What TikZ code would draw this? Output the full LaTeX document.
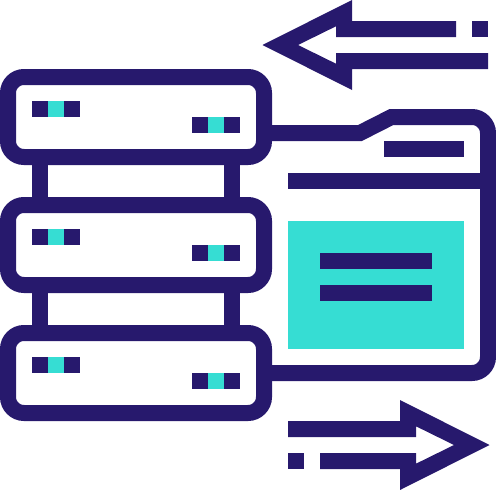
\documentclass[tikz,border=0pt]{standalone}
\usepackage{xcolor}
\definecolor{ink}{HTML}{27196D}
\definecolor{aqua}{HTML}{36DDD3}
\tikzset{
    serverbox/.style={draw=ink, line width=16pt, rounded corners=16pt, minimum width=256pt, minimum height=80pt, inner sep=0pt},
    ledbar/.style={fill=ink, minimum width=48pt, minimum height=16pt, inner sep=0pt, outer sep=0pt},
    ledmid/.style={fill=aqua, minimum size=16pt, inner sep=0pt, outer sep=0pt},
    wire/.style={draw=ink, line width=16pt},
    textbar/.style={fill=ink, minimum height=16pt, inner sep=0pt, outer sep=0pt},
}
\begin{document}
\begin{tikzpicture}[x=1pt,y=-1pt]
        \useasboundingbox (0,0) rectangle (496,490);
        
        %% The three servers
        \node [serverbox] (server-1) at (136,117) {};
        \node [serverbox] (server-2) at (136,245) {};
        \node [serverbox] (server-3) at (136,373) {};
        
        %% Legs between the servers
        \draw [wire] ([xshift=40pt]server-1.south west) -- ([xshift=40pt]server-2.north west);
        \draw [wire] ([xshift=-40pt]server-1.south east) -- ([xshift=-40pt]server-2.north east);
        \draw [wire] ([xshift=40pt]server-2.south west) -- ([xshift=40pt]server-3.north west);
        \draw [wire] ([xshift=-40pt]server-2.south east) -- ([xshift=-40pt]server-3.north east);
        
        %% Lights
        \node [ledbar] (led-1a) at (56,109) {};
        \node [ledmid] at (led-1a) {};
        \node [ledbar] (led-1b) at (216,125) {};
        \node [ledmid] at (led-1b) {};
        \node [ledbar] (led-2a) at (56,237) {};
        \node [ledmid] at (led-2a) {};
        \node [ledbar] (led-2b) at (216,253) {};
        \node [ledmid] at (led-2b) {};
        \node [ledbar] (led-3a) at (56,365) {};
        \node [ledmid] at (led-3a) {};
        \node [ledbar] (led-3b) at (216,381) {};
        \node [ledmid] at (led-3b) {};
        
        %% Folder outline, from the first server to the third
        \draw [wire] ([yshift=-16pt]server-1.east) -- (360,133) -- (391.5,117) -- (440,117) [rounded corners=16pt] -- (488,117) -- (488,373) -- (server-3.east);
        
        %% Folder content
        \node [textbar, minimum width=80pt] (tab) at (424,149) {};
        \node [textbar, minimum width=200pt] (rule) at (388,181) {};
        \node [fill=aqua, minimum width=176pt, minimum height=128pt, inner sep=0pt, outer sep=0pt] (sheet) at (376,285) {};
        \node [textbar, minimum width=112pt] (line-1) at (sheet.center |- 0,261) {};
        \node [textbar, minimum width=112pt] (line-2) at (sheet.center |- 0,293) {};
        
        %% Upper arrow
        \fill [ink] (456,21) -- (352,21) -- (352,0) -- (262.5,45) -- (352,90) -- (352,69) -- (488,69) -- (488,53) -- (336,53) -- (336,63.7) -- (298,45) -- (336,26.3) -- (336,37) -- (456,37) -- cycle;
        \node [textbar, minimum width=16pt] (dot-1) at (480,29) {};
        
        %% Lower arrow
        \fill [ink] (288,421) -- (400,421) -- (400,400) -- (489.5,445) -- (400,490) -- (400,469) -- (320,469) -- (320,453) -- (416,453) -- (416,463.7) -- (454,445) -- (416,426.3) -- (416,437) -- (288,437) -- cycle;
        \node [textbar, minimum width=16pt] (dot-2) at (296,461) {};
    \end{tikzpicture}
\end{document}
